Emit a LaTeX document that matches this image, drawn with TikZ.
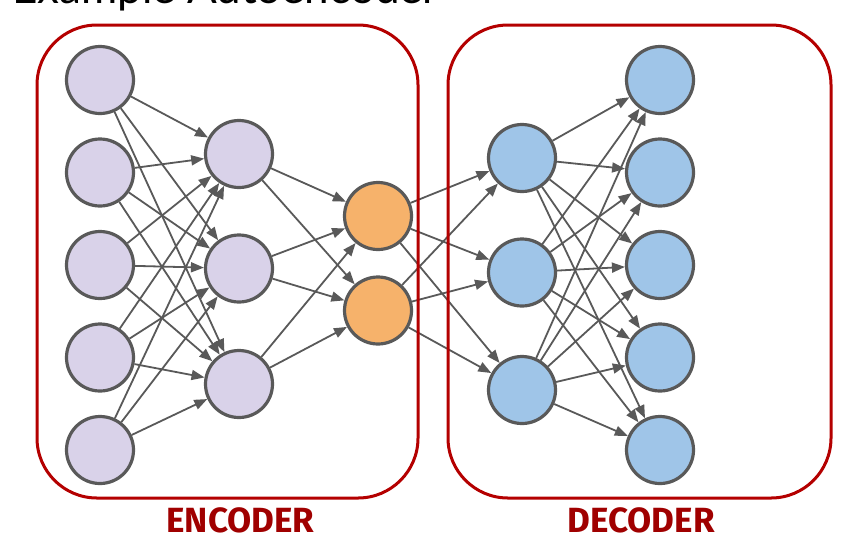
\documentclass[tikz,border=0pt]{standalone}
\usepackage{fontspec}
\usepackage{tikz}
\usetikzlibrary{shapes, arrows.meta, positioning, calc}
\newfontfamily\titlefont{Lato}
\newfontfamily\labelfont{Fira Sans}
\definecolor{edgegray}{HTML}{595959}
\definecolor{encfill}{HTML}{D9D2E9}
\definecolor{codefill}{HTML}{F6B26B}
\definecolor{decfill}{HTML}{9FC5E8}
\definecolor{boxred}{HTML}{B40000}
\definecolor{labelred}{HTML}{A00000}
\tikzstyle{encn} = [circle, minimum size=67pt, inner sep=0pt, draw=edgegray, line width=3.2pt, fill=encfill]
\tikzstyle{coden} = [circle, minimum size=67pt, inner sep=0pt, draw=edgegray, line width=3.2pt, fill=codefill]
\tikzstyle{decn} = [circle, minimum size=67pt, inner sep=0pt, draw=edgegray, line width=3.2pt, fill=decfill]
\tikzstyle{conn} = [-{Stealth[length=13pt, width=10pt, inset=0pt]}, draw=edgegray, fill=edgegray, line width=1.8pt]
\tikzstyle{groupbox} = [draw=boxred, line width=3pt, rounded corners=60pt]
\tikzstyle{grouplabel} = [anchor=base, inner sep=0pt, text=labelred, font=\labelfont\bfseries\fontsize{35}{35}\selectfont]

\begin{document}
\begin{tikzpicture}[x=1pt, y=1pt, node distance=92.5pt]
\useasboundingbox (0,0) rectangle (861,-547);
\node (title) [anchor=base west, inner sep=0pt, font=\titlefont\fontsize{44}{44}\selectfont] at (12,-3) {Example Autoencoder};
% input layer
\node (x1) [encn] at (100,-80) {};
\node (x2) [encn, below of=x1] {};
\node (x3) [encn, below of=x2] {};
\node (x4) [encn, below of=x3] {};
\node (x5) [encn, below of=x4] {};
% encoder hidden layer
\node (e1) [encn] at (239,-154) {};
\node (e2) [encn, below of=e1, yshift=-22pt] {};
\node (e3) [encn, below of=e2, yshift=-23pt] {};
% code
\node (z1) [coden] at (378,-216) {};
\node (z2) [coden, below of=z1, yshift=-2pt] {};
% decoder hidden layer
\node (d1) [decn] at (522,-158) {};
\node (d2) [decn, below of=d1, yshift=-22pt] {};
\node (d3) [decn, below of=d2, yshift=-25pt] {};
% output layer
\node (y1) [decn] at (660,-80) {};
\node (y2) [decn, below of=y1] {};
\node (y3) [decn, below of=y2] {};
\node (y4) [decn, below of=y3] {};
\node (y5) [decn, below of=y4] {};
\draw [conn] (x1) -- (e1);
\draw [conn] (x1) -- (e2);
\draw [conn] (x1) -- (e3);
\draw [conn] (x2) -- (e1);
\draw [conn] (x2) -- (e2);
\draw [conn] (x2) -- (e3);
\draw [conn] (x3) -- (e1);
\draw [conn] (x3) -- (e2);
\draw [conn] (x3) -- (e3);
\draw [conn] (x4) -- (e1);
\draw [conn] (x4) -- (e2);
\draw [conn] (x4) -- (e3);
\draw [conn] (x5) -- (e1);
\draw [conn] (x5) -- (e2);
\draw [conn] (x5) -- (e3);
\draw [conn] (e1) -- (z1);
\draw [conn] (e1) -- (z2);
\draw [conn] (e2) -- (z1);
\draw [conn] (e2) -- (z2);
\draw [conn] (e3) -- (z1);
\draw [conn] (e3) -- (z2);
\draw [conn] (z1) -- (d1);
\draw [conn] (z1) -- (d2);
\draw [conn] (z1) -- (d3);
\draw [conn] (z2) -- (d1);
\draw [conn] (z2) -- (d2);
\draw [conn] (z2) -- (d3);
\draw [conn] (d1) -- (y1);
\draw [conn] (d1) -- (y2);
\draw [conn] (d1) -- (y3);
\draw [conn] (d1) -- (y4);
\draw [conn] (d1) -- (y5);
\draw [conn] (d2) -- (y1);
\draw [conn] (d2) -- (y2);
\draw [conn] (d2) -- (y3);
\draw [conn] (d2) -- (y4);
\draw [conn] (d2) -- (y5);
\draw [conn] (d3) -- (y1);
\draw [conn] (d3) -- (y2);
\draw [conn] (d3) -- (y3);
\draw [conn] (d3) -- (y4);
\draw [conn] (d3) -- (y5);
% encoder and decoder boxes
\draw [groupbox] (37,-25) rectangle (418,-498);
\draw [groupbox] (448,-25) rectangle (831,-498);
\node (enclabel) [grouplabel] at (240.5,-532) {ENCODER};
\node (declabel) [grouplabel] at (641,-532) {DECODER};
\end{tikzpicture}
\end{document}
